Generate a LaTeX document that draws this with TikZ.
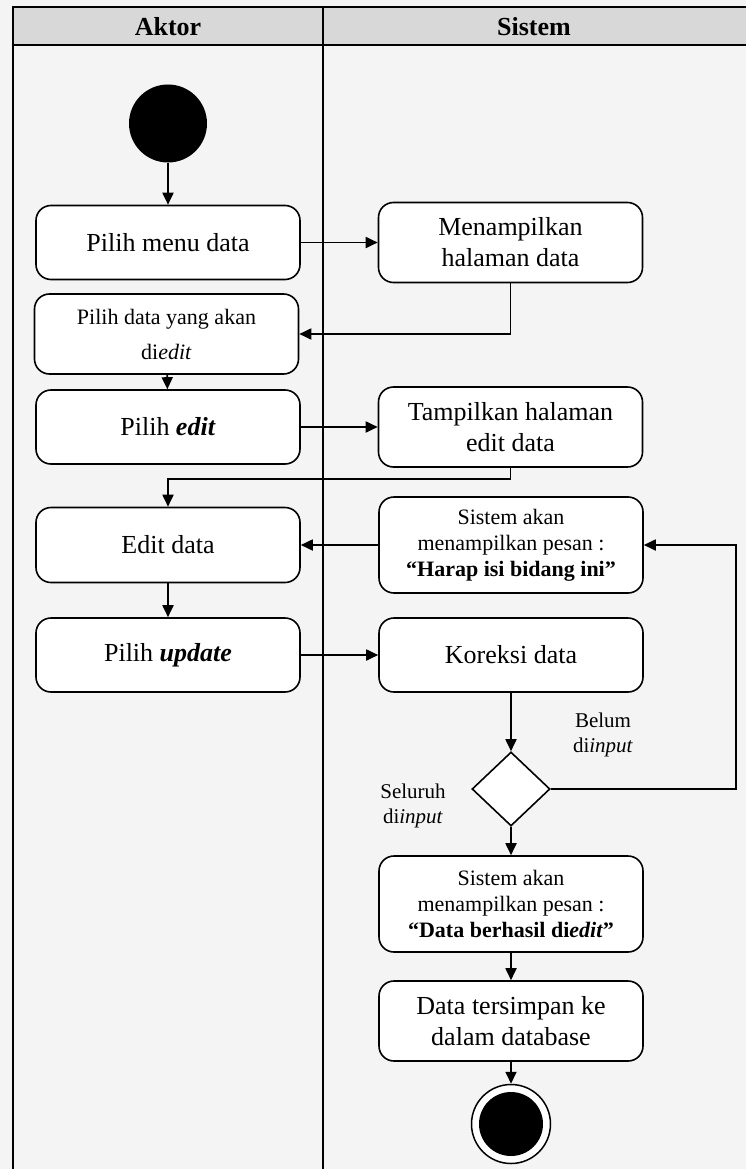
\documentclass[tikz,border=0pt]{standalone}
\usepackage{fontspec}
\setmainfont{Liberation Serif}
\usetikzlibrary{shapes.geometric,arrows.meta}
\definecolor{bgc}{HTML}{F4F4F4}
\definecolor{hdc}{HTML}{D8D8D8}
\tikzset{
  act/.style={draw, fill=white, rounded corners=15pt, line width=1.6pt, align=center, inner sep=2pt,
    minimum width=264pt, minimum height=74pt, font=\fontsize{26}{31}\selectfont},
  msg/.style={act, minimum height=96pt, font=\fontsize{22}{26}\selectfont},
  arr/.style={line width=1.8pt, -{Triangle[length=12pt,width=11pt]}},
  lane/.style={line width=2pt},
  lbl/.style={align=center, font=\fontsize{21}{25}\selectfont},
  hdr/.style={font=\bfseries\fontsize{26}{30}\selectfont}
}
\begin{document}
\begin{tikzpicture}[x=1pt,y=-1pt]
\useasboundingbox (0,0) rectangle (746,1169);
\fill[bgc] (0,0) rectangle (746,1169);
% swimlanes
\fill[hdc] (12.5,7) rectangle (746,45);
\draw[lane] (746,7) -- (12.5,7) -- (12.5,1169);
\draw[lane] (12.5,45) -- (746,45);
\draw[lane] (323,7) -- (323,1169);
\node[hdr] (h1) at (168,27) {Aktor};
\node[hdr] (h2) at (534,27) {Sistem};
% nodes
\node[circle, fill=black, minimum width=78pt, minimum height=76pt, inner sep=0pt] (start) at (168,123.5) {};
\node[act] (m1) at (168,242.5) {Pilih menu data};
\node[act, minimum height=80pt] (s1) at (510.5,242.5) {Menampilkan\\halaman data};
\node[act, minimum height=80pt, font=\fontsize{22}{35}\selectfont] (a2) at (166.5,334) {Pilih data yang akan\\di\textit{edit}};
\node[act] (a3) at (168,427) {Pilih \textbf{\textit{edit}}};
\node[act, minimum height=80pt] (s2) at (510.5,427) {Tampilkan halaman\\edit data};
\node[act, minimum height=75pt] (a4) at (168,545) {Edit data};
\node[msg] (s3) at (511,545) {Sistem akan\\menampilkan pesan :\\\textbf{“Harap isi bidang ini”}};
\node[act] (a5) at (168,655) {Pilih \textbf{\textit{update}}};
\node[act] (s4) at (511,655) {Koreksi data};
\node[diamond, draw, fill=white, line width=1.6pt, minimum width=78pt, minimum height=74pt, inner sep=0pt] (d) at (511,789) {};
\node[lbl] (l1) at (603,735) {Belum\\di\textit{input}};
\node[lbl] (l2) at (413,806) {Seluruh\\di\textit{input}};
\node[msg] (s5) at (511,904) {Sistem akan\\menampilkan pesan :\\\textbf{“Data berhasil di\textit{edit}”}};
\node[act, minimum height=80pt] (s6) at (511,1021) {Data tersimpan ke\\dalam database};
\node[circle, draw, fill=white, line width=1.5pt, minimum width=79pt, minimum height=74pt, inner sep=0pt] (end) at (511,1124) {};
\node[circle, fill=black, minimum width=64pt, minimum height=60pt, inner sep=0pt] (endin) at (end.center) {};
% connectors
\draw[arr] (start) -- (m1);
\draw[arr] (m1) -- (s1);
\draw[arr] (s1.south) |- (a2.east);
\draw[arr] (a2) -- (a3);
\draw[arr] (a3) -- (s2);
\draw[arr] (s2.south) -- ++(0,11) -| (a4.north);
\draw[arr] (s3) -- (a4);
\draw[arr] (a4) -- (a5);
\draw[arr] (a5) -- (s4);
\draw[arr] (s4) -- (d);
\draw[arr] (d.east) -- ++(185,0) |- (s3.east);
\draw[arr] (d) -- (s5);
\draw[arr] (s5) -- (s6);
\draw[arr] (s6) -- (end);
\end{tikzpicture}
\end{document}
